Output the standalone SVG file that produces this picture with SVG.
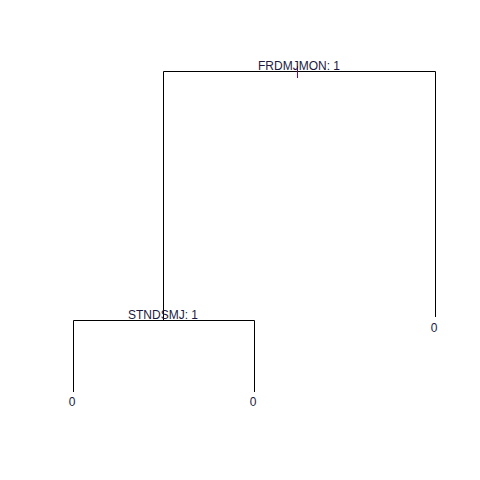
<svg xmlns="http://www.w3.org/2000/svg" width="480" height="480" viewBox="0 0 480 480">
<style>
.e{stroke:#000;stroke-width:1;fill:none}
.t{font-family:"Liberation Sans",Arial,sans-serif;font-size:12px;fill:#1a1a40;text-anchor:middle}
</style>
<rect width="480" height="480" fill="#fff"/>
<g id="connectors">
<path class="e" d="M163.5,320 V71.5 H435.5 V317"/>
<path class="e" d="M73.5,392 V320.5 H254.5 V392"/>
<line x1="297.5" y1="66" x2="297.5" y2="78" stroke="#800080" stroke-width="1"/>
</g>
<g id="n1"><text class="t" x="299" y="70">FRDMJMON: 1</text></g>
<g id="n2"><text class="t" x="163" y="319">STNDSMJ: 1</text></g>
<g id="n3"><text class="t" x="72" y="406">0</text></g>
<g id="n4"><text class="t" x="253" y="406">0</text></g>
<g id="n5"><text class="t" x="434" y="332">0</text></g>
</svg>
